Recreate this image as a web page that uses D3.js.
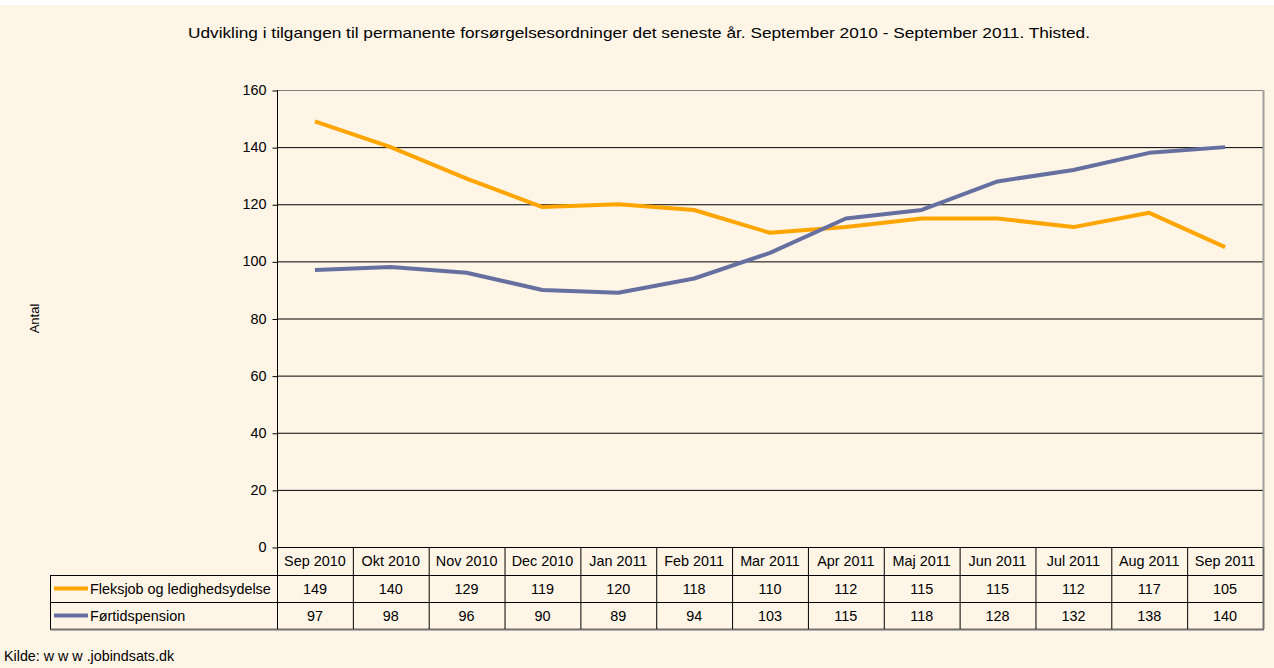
<!DOCTYPE html>
<html>
<head>
<meta charset="utf-8">
<script src="https://cdn.jsdelivr.net/npm/d3@7"></script>
<style>
  body { margin: 0; background: #fff; }
  text { font-family: "Liberation Sans", Arial, sans-serif; fill: #000; }
</style>
</head>
<body>
<div id="chart"></div>
<script>
// data
const months = ["Sep 2010", "Okt 2010", "Nov 2010", "Dec 2010", "Jan 2011", "Feb 2011", "Mar 2011",
    "Apr 2011", "Maj 2011", "Jun 2011", "Jul 2011", "Aug 2011", "Sep 2011"];
const fleksjob = [149, 140, 129, 119, 120, 118, 110, 112, 115, 115, 112, 117, 105];
const foertid = [97, 98, 96, 90, 89, 94, 103, 115, 118, 128, 132, 138, 140];
const yTicks = [0, 20, 40, 60, 80, 100, 120, 140, 160];

const series = [
    { name: "Fleksjob og ledighedsydelse", values: fleksjob, color: "#FFA500" },
    { name: "Førtidspension", values: foertid, color: "#6670A0" }
];

const W = 1274, H = 668;
const margin = { top: 90, right: 11, bottom: 121, left: 277 };
const width = W - margin.left - margin.right;
const height = H - margin.top - margin.bottom;
const fs = "14.4px";

const svg = d3.select("#chart")
    .append("svg")
    .attr("width", W)
    .attr("height", H);

// background
svg.append("rect")
    .attr("x", 0).attr("y", 5)
    .attr("width", W).attr("height", H - 5)
    .attr("fill", "#FEF5E7");

// title
svg.append("text")
    .attr("x", 188)
    .attr("y", 38)
    .attr("textLength", 902)
    .attr("lengthAdjust", "spacingAndGlyphs")
    .style("font-size", "15px")
    .text("Udvikling i tilgangen til permanente forsørgelsesordninger det seneste år. September 2010 - September 2011. Thisted.");

const g = svg.append("g")
    .attr("transform", `translate(${margin.left},${margin.top})`);

const x = d3.scaleBand()
    .domain(months)
    .range([0, width]);

const y = d3.scaleLinear()
    .domain([0, 160])
    .range([height, 0]);

// gridlines
g.append("g")
    .selectAll("line")
    .data(yTicks.filter(d => d > 0))
    .join("line")
    .attr("x1", 0)
    .attr("x2", width)
    .attr("y1", d => y(d) + 0.5)
    .attr("y2", d => y(d) + 0.5)
    .attr("stroke", d => d === 160 ? "#808080" : "#000")
    .attr("stroke-width", 1);

// plot border right
g.append("line")
    .attr("x1", width + 0.5).attr("x2", width + 0.5)
    .attr("y1", 0).attr("y2", height)
    .attr("stroke", "#A0A0A0")
    .attr("stroke-width", 2);

// y axis
const yAxis = d3.axisLeft(y)
    .tickValues(yTicks)
    .tickSize(5)
    .tickPadding(6);
const yAxisG = g.append("g")
    .attr("transform", "translate(0.5,0)")
    .call(yAxis);
yAxisG.select(".domain").remove();
yAxisG.selectAll(".tick line").attr("stroke", "#000").attr("transform", "translate(0,0.5)");
yAxisG.selectAll("text")
    .style("font-size", fs)
    .style("font-family", "'Liberation Sans', Arial, sans-serif");

g.append("line")
    .attr("x1", 0.5).attr("x2", 0.5)
    .attr("y1", 0).attr("y2", height)
    .attr("stroke", "#000");

// y axis label
svg.append("text")
    .attr("transform", `translate(39,${margin.top + height / 2}) rotate(-90)`)
    .attr("text-anchor", "middle")
    .style("font-size", "13px")
    .text("Antal");

// lines
const line = d3.line()
    .x((d, i) => x(months[i]) + x.bandwidth() / 2)
    .y(d => y(d));

g.append("g")
    .selectAll("path")
    .data(series)
    .join("path")
    .attr("d", d => line(d.values))
    .attr("fill", "none")
    .attr("stroke", d => d.color)
    .attr("stroke-width", 4)
    .attr("stroke-linejoin", "round");

// data table
const tableLeft = 50;
const headerH = 28, rowH = 27;
const table = svg.append("g")
    .attr("transform", `translate(0,${margin.top + height})`);

// header labels
table.selectAll(".hdr")
    .data(months)
    .join("text")
    .attr("class", "hdr")
    .attr("x", d => margin.left + x(d) + x.bandwidth() / 2)
    .attr("y", headerH / 2 + 5)
    .attr("text-anchor", "middle")
    .style("font-size", fs)
    .text(d => d);

// value rows
series.forEach((s, r) => {
    const top = headerH + r * rowH;
    table.selectAll(`.val${r}`)
        .data(s.values)
        .join("text")
        .attr("class", `val${r}`)
        .attr("x", (d, i) => margin.left + x(months[i]) + x.bandwidth() / 2)
        .attr("y", top + rowH / 2 + 5)
        .attr("text-anchor", "middle")
        .style("font-size", fs)
        .text(d => d);

    table.append("line")
        .attr("x1", tableLeft + 4).attr("x2", tableLeft + 38)
        .attr("y1", top + rowH / 2).attr("y2", top + rowH / 2)
        .attr("stroke", s.color)
        .attr("stroke-width", 4);
    table.append("text")
        .attr("x", tableLeft + 40)
        .attr("y", top + rowH / 2 + 5)
        .style("font-size", fs)
        .text(s.name);
});

// table grid
const tableBottom = headerH + series.length * rowH;
const tableRight = margin.left + width;
// horizontal lines
[headerH, headerH + rowH].forEach(yy => {
    table.append("line")
        .attr("x1", tableLeft).attr("x2", tableRight)
        .attr("y1", yy + 0.5).attr("y2", yy + 0.5)
        .attr("stroke", "#000");
});
table.append("line")
    .attr("x1", margin.left).attr("x2", tableRight)
    .attr("y1", 0.5).attr("y2", 0.5)
    .attr("stroke", "#000");
table.append("line")
    .attr("x1", tableLeft).attr("x2", tableRight + 1)
    .attr("y1", tableBottom + 0.5).attr("y2", tableBottom + 0.5)
    .attr("stroke", "#707070")
    .attr("stroke-width", 2);
// vertical lines
table.selectAll(".vline")
    .data(months.slice(1))
    .join("line")
    .attr("class", "vline")
    .attr("x1", d => margin.left + x(d) + 0.5)
    .attr("x2", d => margin.left + x(d) + 0.5)
    .attr("y1", 0).attr("y2", tableBottom)
    .attr("stroke", "#000");
table.append("line")
    .attr("x1", margin.left + 0.5).attr("x2", margin.left + 0.5)
    .attr("y1", 0).attr("y2", tableBottom)
    .attr("stroke", "#000");
table.append("line")
    .attr("x1", tableLeft + 0.5).attr("x2", tableLeft + 0.5)
    .attr("y1", headerH).attr("y2", tableBottom)
    .attr("stroke", "#000");
table.append("line")
    .attr("x1", tableRight + 0.5).attr("x2", tableRight + 0.5)
    .attr("y1", 0).attr("y2", tableBottom)
    .attr("stroke", "#707070")
    .attr("stroke-width", 2);

// source
svg.append("text")
    .attr("x", 4)
    .attr("y", 661)
    .style("font-size", "14.3px")
    .text("Kilde: w w w .jobindsats.dk");
</script>
</body>
</html>
